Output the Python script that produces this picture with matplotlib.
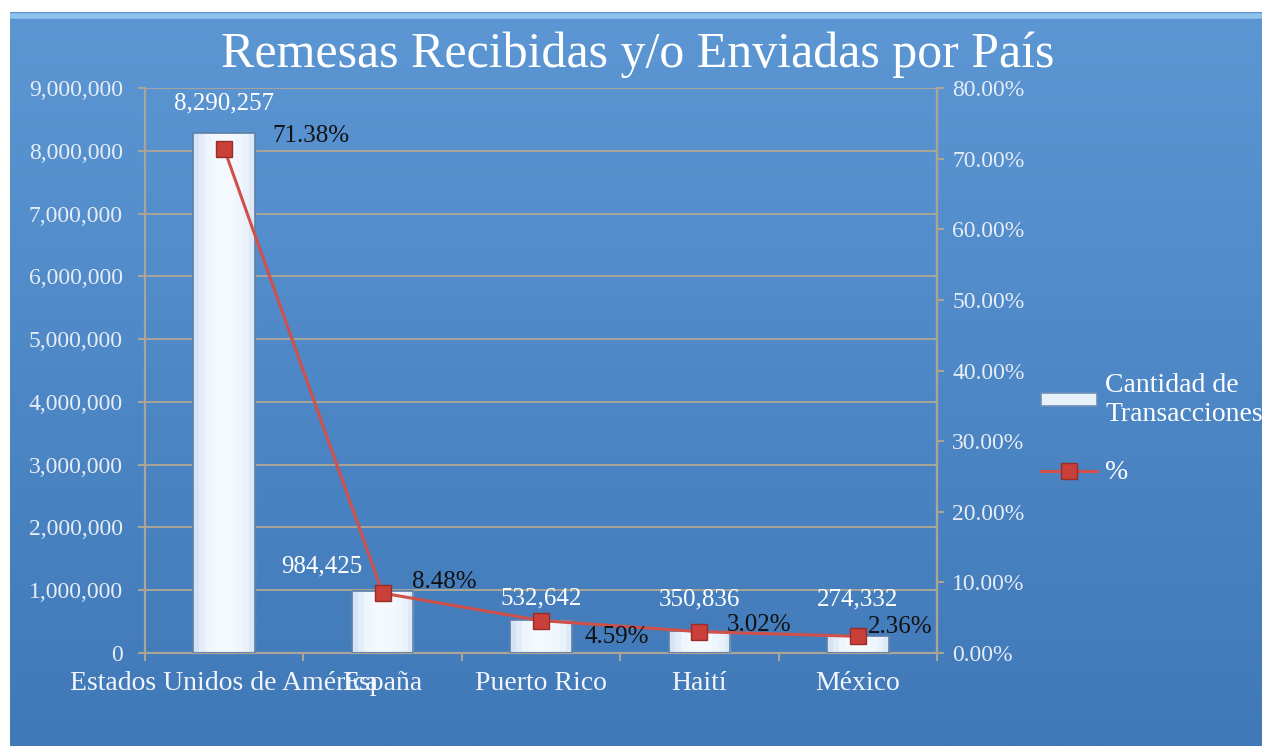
import numpy as np
import matplotlib.pyplot as plt
from matplotlib.lines import Line2D
from matplotlib.patches import Rectangle

paises = ["Estados Unidos de América", "España", "Puerto Rico", "Haití", "México"]
transacciones = [8290257, 984425, 532642, 350836, 274332]
porcentaje = [71.38, 8.48, 4.59, 3.02, 2.36]

serif = ["Liberation Serif", "DejaVu Serif"]
plt.rcParams["font.family"] = serif

fig = plt.figure(figsize=(12.62, 7.46), dpi=100, facecolor="white")

# fondo azul con degradado vertical
bg = fig.add_axes([10 / 1262, 0, 1 - 10 / 1262, 1 - 12 / 746])
grad = np.linspace(0, 1, 256).reshape(-1, 1)
top = np.array([0x5c, 0x97, 0xd4]) / 255
bot = np.array([0x40, 0x78, 0xb8]) / 255
img = bot + (top - bot) * grad
bg.imshow(img[:, None, :].repeat(2, axis=1), aspect="auto", origin="lower",
          extent=[0, 1, 0, 1])
bg.plot([0, 1], [0.995, 0.995], color="#8ec2ee", lw=4, transform=bg.transAxes)
bg.set_axis_off()

ax = fig.add_axes([145 / 1262, 93 / 746, 792 / 1262, 565 / 746])
ax.patch.set_alpha(0)
x = np.arange(len(paises))
ax.set_yticks(np.arange(0, 9000001, 1000000))
ax.set_yticklabels([f"{v:,}" for v in range(0, 9000001, 1000000)])
ax.yaxis.grid(True, color="#a9a597", lw=1.4)
ax.set_axisbelow(True)

# barras con degradado horizontal blanco-azulado
bars = ax.bar(x, transacciones, width=0.39, color="none", edgecolor="#6c8fb8",
              lw=1.0, zorder=2)
hgrad = np.array([0.45, 0.7, 0.88, 0.97, 1.0, 1.0, 0.97, 0.9, 0.8, 0.6])
for b in bars:
    x0, w, h = b.get_x(), b.get_width(), b.get_height()
    cols = np.zeros((1, len(hgrad), 3))
    cols[0, :, 0] = 0.74 + 0.22 * hgrad
    cols[0, :, 1] = 0.82 + 0.16 * hgrad
    cols[0, :, 2] = 0.93 + 0.07 * hgrad
    im = ax.imshow(cols, aspect="auto", extent=[x0, x0 + w, 0, h], zorder=2.5)
    im.set_clip_path(b)
    ax.add_patch(Rectangle((x0, 0), w, h, fill=False, ec="#5b7fa8", lw=1.2, zorder=3))
ax.set_xlim(-0.5, len(paises) - 0.5)
ax.set_ylim(0, 9000000)

val_off = [(0, 13), (-44, 10), (0, 7), (0, 15), (0, 18)]
for xi, v, off in zip(x, transacciones, val_off):
    ax.annotate(f"{v:,}", (xi, v), xytext=off, textcoords="offset points",
                ha="center", va="bottom", color="white", fontsize=18, zorder=6)

ax.set_xticks(np.arange(-0.5, len(paises), 1.0))
ax.set_xticklabels([])
ax.set_xticks(x, minor=True)
ax.set_xticklabels(paises, minor=True, color="#f2f6fb", fontsize=20)
ax.tick_params(axis="x", which="minor", length=0, pad=13)
ax.tick_params(axis="x", which="major", length=6, color="#a9a597", width=1.5)
ax.tick_params(axis="y", length=5, color="#a9a597", width=1.5, labelsize=17,
               labelcolor="#e6edf6", pad=11)
for s in ["left", "bottom", "right", "top"]:
    ax.spines[s].set_color("#a9a597")
    ax.spines[s].set_linewidth(1.6)
ax.spines["top"].set_visible(False)

ax2 = ax.twinx()
ax2.set_ylim(0, 80)
ax2.set_yticks(np.arange(0, 81, 10))
ax2.set_yticklabels([f"{v:.2f}%" for v in range(0, 81, 10)])
ax2.tick_params(axis="y", length=5, color="#a9a597", width=1.5, labelsize=17,
                labelcolor="#e6edf6", pad=6)
for s in ["left", "bottom", "top"]:
    ax2.spines[s].set_visible(False)
ax2.spines["right"].set_color("#a9a597")
ax2.spines["right"].set_linewidth(1.6)
ax2.plot(x, porcentaje, color="#d0504a", lw=2.2, marker="s", markersize=11.5,
         markerfacecolor="#c9403a", markeredgecolor="#9a2c28", zorder=5)

pct_off = [(35, 9), (21, 8), (31, -11.5), (20, 5), (7, 7)]
for xi, p, off in zip(x, porcentaje, pct_off):
    ax2.annotate(f"{p:.2f}%", (xi, p), xytext=off, textcoords="offset points",
                 ha="left", va="center", color="#111111", fontsize=18, zorder=6)

fig.text(0.505, 0.926, "Remesas Recibidas y/o Enviadas por País", ha="center",
         va="center", fontsize=36, color="white")

handles = [
    Rectangle((0, 0), 1, 1, facecolor="#e8f0fa", edgecolor="#6c8fb8", lw=1.2),
    Line2D([], [], color="#d0504a", lw=2.2, marker="s", markersize=11.5,
           markerfacecolor="#c9403a", markeredgecolor="#9a2c28"),
]
leg = fig.legend(handles, ["Cantidad de\nTransacciones", "%"],
                 loc="upper left", bbox_to_anchor=(1030 / 1262, 1 - 362 / 746),
                 frameon=False, fontsize=20, labelcolor="white",
                 handlelength=2.0, handleheight=0.3, labelspacing=1.2,
                 handletextpad=0.3, borderaxespad=0)

fig.savefig("out.png", dpi=100, facecolor="white")
